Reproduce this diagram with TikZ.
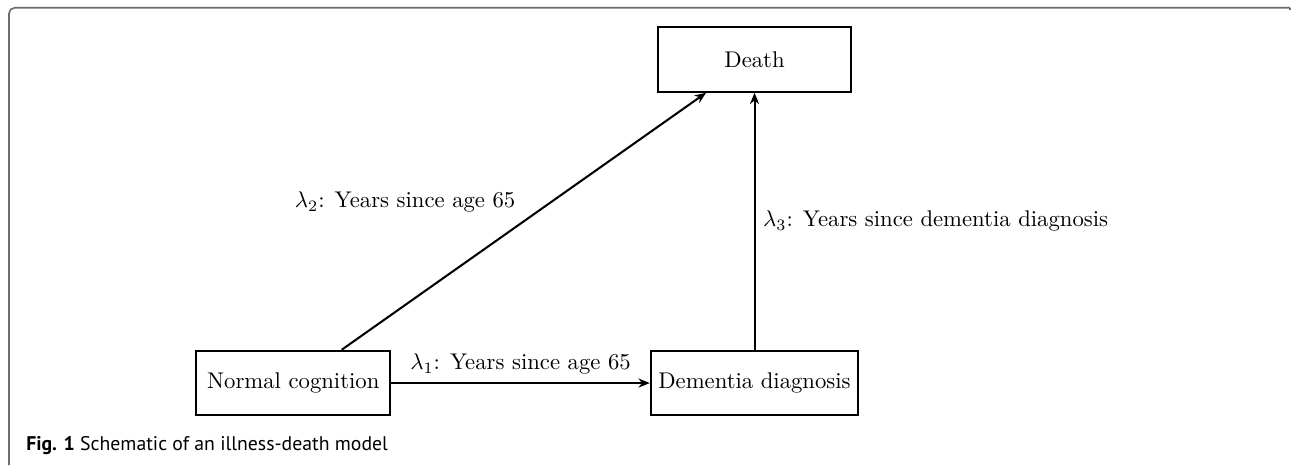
\documentclass[tikz,border=0pt]{standalone}
\usepackage{amsmath}
\usepackage{fontspec}
\newfontfamily\capfont{PT Sans}
\usepackage{tikz}
\usetikzlibrary{arrows.meta}

\begin{document}
\begin{tikzpicture}[scale=1.0,
    state/.style={draw, line width=0.9pt, minimum width=3cm, minimum height=1cm},
    trans/.style={line width=0.9pt, -{Stealth[length=5pt,width=4pt]}}]
  \useasboundingbox (0,0) rectangle (20,7.2);
  \draw[gray!85!black, line width=0.7pt, rounded corners=2.5pt] (0.14,0) -- (0.14,7.08) -- (19.97,7.08);
  \draw[gray!85!black, line width=0.7pt] (19.97,7.08) -- (19.97,7.05);
  \node[state] (death) at (11.68,6.28) {Death};
  \node[state] (normal) at (4.54,1.27) {Normal cognition};
  \node[state] (dementia) at (11.68,1.27) {Dementia diagnosis};
  \draw[trans] (normal) -- node[above] (lab1) {$\lambda_1$: Years since age 65} (dementia);
  \draw[trans] ([xshift=0.75cm]normal.north) -- node[above left] (lab2) {$\lambda_2$: Years since age 65} ([xshift=-0.75cm]death.south);
  \draw[trans] (dementia) -- node[right] (lab3) {$\lambda_3$: Years since dementia diagnosis} (death);
  \node[anchor=base west, inner sep=0pt, font=\capfont\fontsize{8.7}{10}\selectfont] (cap) at (0.40,0.23) {\textbf{Fig. 1} Schematic of an illness-death model};
\end{tikzpicture}
\end{document}
